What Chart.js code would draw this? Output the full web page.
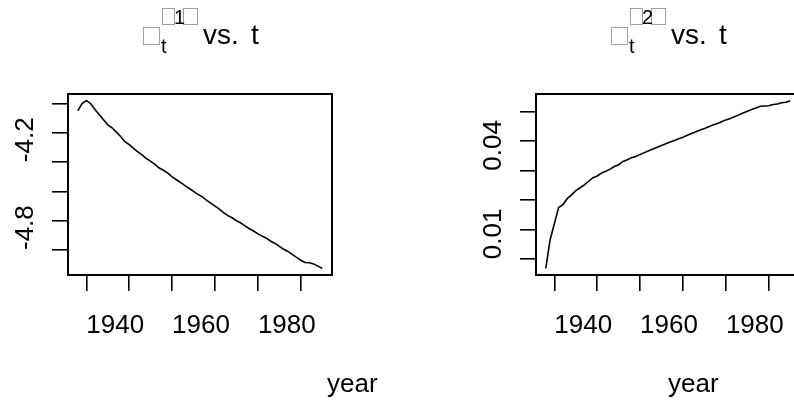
<!DOCTYPE html>
<html><head><meta charset="utf-8">
<script src="https://cdn.jsdelivr.net/npm/chart.js@4.4.1/dist/chart.umd.min.js"></script>
<style>
html,body{margin:0;padding:0;background:#fff;overflow:hidden;width:794px;height:413px;position:relative}
.panel{position:absolute;top:0;width:397px;height:413px}
#p1{left:0} #p2{left:468px}
</style></head><body>
<div class="panel" id="p1"><canvas id="c1" width="397" height="413"></canvas></div>
<div class="panel" id="p2"><canvas id="c2" width="397" height="413"></canvas></div>
<script>
// years on the x axis
const years = [1938,1939,1940,1941,1942,1943,1944,1945,1946,1947,1948,1949,1950,1951,1952,1953,1954,1955,1956,1957,
  1958,1959,1960,1961,1962,1963,1964,1965,1966,1967,1968,1969,1970,1971,1972,1973,1974,1975,1976,1977,
  1978,1979,1980,1981,1982,1983,1984,1985,1986,1987,1988,1989,1990,1991,1992,1993,1994,1995];

// kappa_t(1)
const kappa1 = [-3.85,-3.80,-3.78,-3.80,-3.84,-3.875,-3.91,-3.945,-3.965,-3.995,-4.025,-4.06,-4.08,-4.105,-4.13,-4.15,-4.175,-4.195,-4.215,-4.24,
  -4.255,-4.275,-4.30,-4.32,-4.34,-4.36,-4.38,-4.40,-4.42,-4.435,-4.46,-4.48,-4.50,-4.52,-4.545,-4.565,-4.58,-4.60,-4.615,-4.635,
  -4.655,-4.67,-4.69,-4.705,-4.72,-4.74,-4.755,-4.775,-4.795,-4.81,-4.83,-4.85,-4.87,-4.885,-4.887,-4.895,-4.91,-4.925];

// kappa_t(2)
const kappa2 = [0.0069,0.0165,0.022,0.0275,0.0285,0.0305,0.0318,0.0332,0.0342,0.0352,0.0364,0.0376,0.0382,0.0392,0.0398,0.0405,0.0414,0.042,0.0431,0.0437,
  0.0444,0.0448,0.0455,0.0461,0.0467,0.0473,0.0479,0.0485,0.0491,0.0497,0.0502,0.0508,0.0513,0.052,0.0526,0.0532,0.0538,0.0543,0.0549,0.0555,
  0.056,0.0566,0.0572,0.0577,0.0583,0.0589,0.0595,0.0601,0.0607,0.0612,0.0618,0.0619,0.062,0.0624,0.0626,0.063,0.0632,0.0637];

const xTicks = [1940,1950,1960,1970,1980,1990];
const xTickLabels = ['1940','1960','1980'];
const y1Ticks = [-4.8,-4.6,-4.4,-4.2,-4.0,-3.8];
const y1TickLabels = ['-4.2','-4.8'];
const y2Ticks = [0.01,0.02,0.03,0.04,0.05,0.06];
const y2TickLabels = ['0.01','0.04'];
const xTitle = 'year';

const FONT = "'Liberation Sans', Arial, sans-serif";

// R style: range padded 4% each side
function padRange(a){
  const lo = Math.min(...a), hi = Math.max(...a), p = (hi-lo)*0.04;
  return [lo-p, hi+p];
}

const boxPlugin = {
  id:'box',
  afterDraw(chart){
    const a = chart.chartArea, c = chart.ctx;
    c.save(); c.strokeStyle = '#000'; c.lineWidth = 2;
    c.strokeRect(a.left, a.top, a.right-a.left, a.bottom-a.top);
    c.restore();
  }
};

function textPlugin(yLabels, supDigit, xTitleX){
  return {
    id:'texts',
    afterDraw(chart){
      const c = chart.ctx, a = chart.chartArea, ys = chart.scales.y;
      c.save();
      c.fillStyle = '#000';
      // y tick labels, rotated, starting at the tick
      c.font = '26px ' + FONT;
      c.textAlign = 'left'; c.textBaseline = 'alphabetic';
      yLabels.forEach(l => {
        const py = ys.getPixelForValue(Number(l));
        c.save(); c.translate(a.left - 35, py); c.rotate(-Math.PI/2);
        c.fillText(l, 0, 0); c.restore();
      });
      // x axis title
      c.fillText(xTitle, xTitleX, 392);
      // title: kappa_t^(n) vs. t  (kappa and parens shown as missing glyph boxes)
      c.strokeStyle = '#a0a0a0'; c.lineWidth = 1;
      c.strokeRect(143.5, 27.5, 16, 17);
      c.strokeRect(162.5, 8.5, 12, 16);
      c.strokeRect(183.5, 8.5, 14, 16);
      c.font = '20px ' + FONT;
      c.fillText('t', 161, 53);
      c.fillText(supDigit, 174, 24);
      c.font = '28px ' + FONT;
      c.fillText('vs.', 203, 44);
      c.fillText('t', 251, 44);
      c.restore();
    }
  };
}

function makeChart(id, values, yTicks, yLabels, supDigit, xTitleX){
  const xr = padRange(years), yr = padRange(values);
  const gridOpts = { drawOnChartArea:false, drawTicks:true, tickLength:16, color:'#000', lineWidth:1.6 };
  return new Chart(document.getElementById(id), {
    type:'line',
    data:{ datasets:[{ data: years.map((y,i)=>({x:y, y:values[i]})), borderColor:'#000', borderWidth:1.6,
      pointRadius:0, tension:0, fill:false }]},
    options:{
      responsive:false, animation:false, devicePixelRatio:1,
      layout:{ padding:{ top:94, right:65, left:0, bottom:0 } },
      plugins:{ legend:{display:false}, tooltip:{enabled:false}, title:{display:false} },
      scales:{
        x:{ type:'linear', min:xr[0], max:xr[1],
          afterBuildTicks: s => { s.ticks = xTicks.map(v=>({value:v})); },
          afterFit: s => { s.height = 138; },
          grid: gridOpts, border:{display:false},
          ticks:{ autoSkip:false, maxRotation:0, minRotation:0, align:'start', padding:19, color:'#000',
            font:{family:FONT, size:26},
            callback: v => xTickLabels.includes(String(v)) ? String(v) : '' } },
        y:{ type:'linear', min:yr[0], max:yr[1],
          afterBuildTicks: s => { s.ticks = yTicks.map(v=>({value:v})); },
          afterFit: s => { s.width = 68; },
          grid: gridOpts, border:{display:false},
          ticks:{ display:false } }
      }
    },
    plugins:[boxPlugin, textPlugin(yLabels, supDigit, xTitleX)]
  });
}

makeChart('c1', kappa1, y1Ticks, y1TickLabels, '1', 327);
makeChart('c2', kappa2, y2Ticks, y2TickLabels, '2', 200);
</script>
</body></html>
